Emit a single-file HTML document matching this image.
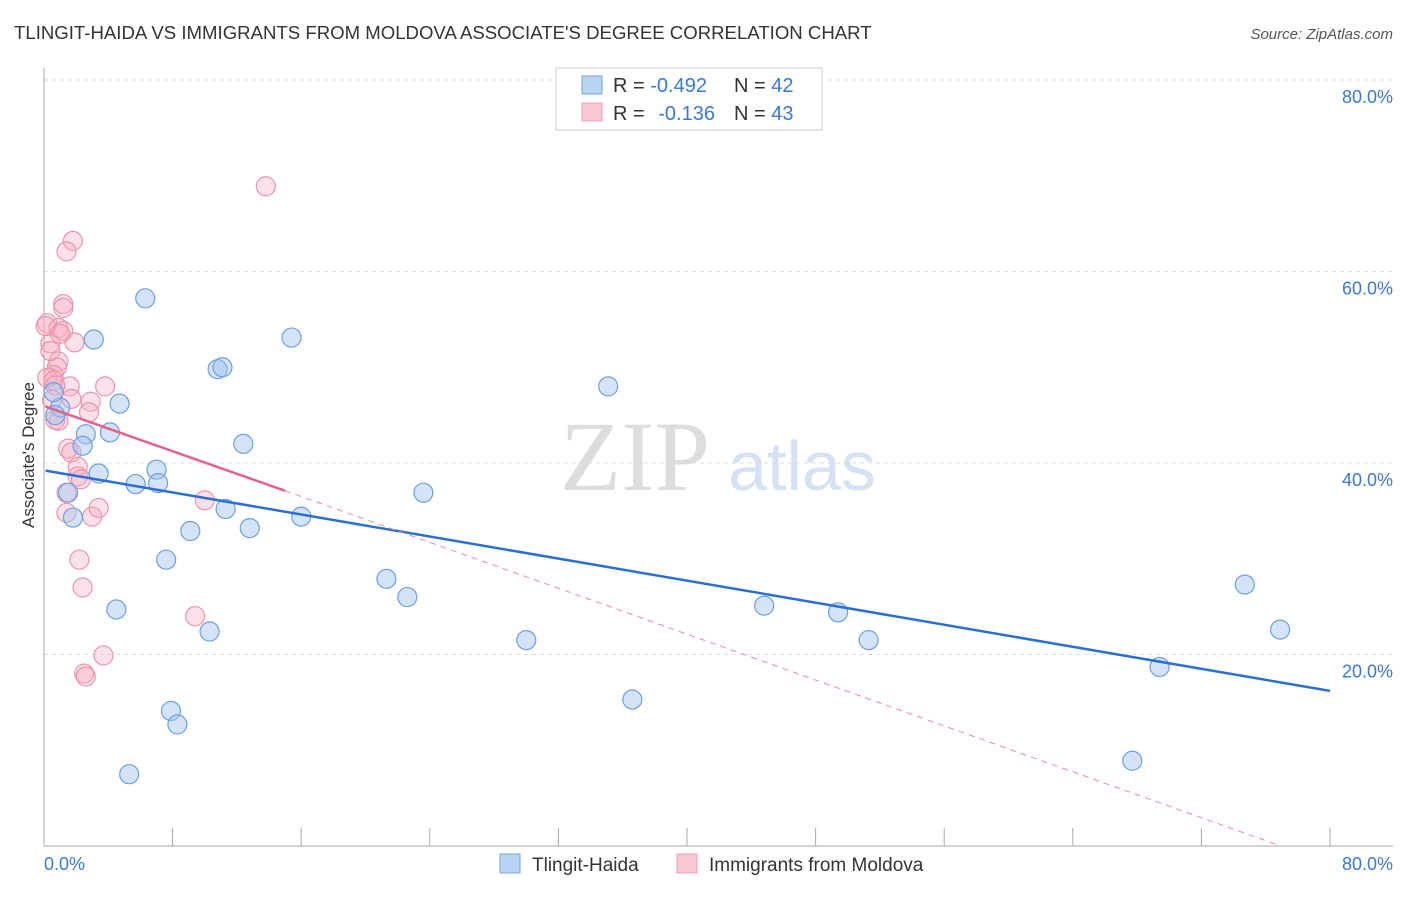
<!DOCTYPE html>
<html><head><meta charset="utf-8"><style>
body{margin:0;background:#fff;font-family:"Liberation Sans",sans-serif;}
</style></head><body>
<svg width="1406" height="892" xmlns="http://www.w3.org/2000/svg" font-family="Liberation Sans, sans-serif">
<text x="14" y="39" font-size="18.6" fill="#333">TLINGIT-HAIDA VS IMMIGRANTS FROM MOLDOVA ASSOCIATE'S DEGREE CORRELATION CHART</text>
<text x="1393" y="39" font-size="15" fill="#555" font-style="italic" text-anchor="end">Source: ZipAtlas.com</text>
<text x="635" y="490" font-size="100" fill="#ddd" text-anchor="middle" font-family="Liberation Serif, serif">ZIP</text>
<text x="802" y="490" font-size="70" fill="#d5e2f3" text-anchor="middle">atlas</text>
<g id="grid"></g><g id="axes"></g><g id="marks"></g>
<text transform="translate(34,455) rotate(-90)" font-size="17" fill="#333" text-anchor="middle">Associate's Degree</text>
<text x="44" y="870" font-size="18" fill="#3a78d8">0.0%</text>
<text x="1393" y="870" font-size="18" fill="#3a78d8" text-anchor="end">80.0%</text>
<g>
<rect x="556" y="68" width="266" height="62" fill="#fff" stroke="#ccc"/>
<rect x="582" y="76" width="20" height="18" fill="#b9d3f3" stroke="#7aa6e2"/>
<rect x="582" y="103" width="20" height="18" fill="#f9c6d4" stroke="#eba0b6"/>
<text x="613" y="92" font-size="20" fill="#333">R = <tspan fill="#3a78d8">-0.492</tspan><tspan x="734">N = </tspan><tspan fill="#3a78d8">42</tspan></text>
<text x="613" y="120" font-size="20" fill="#333">R = <tspan fill="#3a78d8" dx="8">-0.136</tspan><tspan x="734">N = </tspan><tspan fill="#3a78d8">43</tspan></text>
</g>
<g>
<rect x="500" y="854" width="20" height="19" fill="#b9d3f3" stroke="#7aa6e2"/>
<text x="532" y="871" font-size="19" fill="#333">Tlingit-Haida</text>
<rect x="677" y="854" width="20" height="19" fill="#f9c6d4" stroke="#eba0b6"/>
<text x="709" y="871" font-size="19" fill="#333">Immigrants from Moldova</text>
</g>
</svg>
<script>
const yTicks=[20,40,60,80];
const yTickLabels=["20.0%","40.0%","60.0%","80.0%"];
const xTicks=[0,8,16,24,32,40,48,56,64,72,80];
const blueX=[6.3,3.1,15.4,10.8,11.1,35.1,4.7,1.0,0.7,0.6,2.6,4.1,2.4,12.4,3.4,7.0,5.7,7.1,1.5,23.6,1.8,11.3,16.0,12.8,9.1,7.6,21.3,22.6,4.5,10.3,30.0,44.8,49.4,51.3,74.7,76.9,69.4,36.6,7.9,8.3,5.3,67.7];
const blueY=[57.2,52.9,53.1,49.8,50.0,48.0,46.2,45.8,45.0,47.4,43.0,43.2,41.8,42.0,38.9,39.3,37.8,37.9,36.9,36.9,34.3,35.2,34.4,33.2,32.9,29.9,27.9,26.0,24.7,22.4,21.5,25.1,24.4,21.5,27.3,22.6,18.7,15.3,14.1,12.7,7.5,8.9];
const pinkX=[13.8,1.8,1.4,1.2,1.2,0.2,0.9,1.2,1.9,0.4,0.9,0.8,0.6,0.2,0.6,1.6,3.8,0.7,1.7,2.9,2.8,0.9,1.5,1.7,2.1,2.1,2.3,1.4,1.4,3.0,3.4,10.0,2.2,2.4,9.4,3.7,2.5,2.6,0.1,0.4,1.0,0.5,0.7];
const pinkY=[68.9,63.2,62.1,56.6,56.2,54.6,54.1,53.8,52.6,52.5,50.6,50.0,49.2,48.9,48.6,48.0,48.0,48.1,46.7,46.4,45.3,44.4,41.5,41.1,39.6,38.6,38.3,36.9,34.8,34.4,35.3,36.1,29.9,27.0,24.0,19.9,18.0,17.7,54.3,51.7,53.5,46.6,44.5];
const blueTrend=[0.1,39.2,80,16.2];
const pinkTrend=[0.1,45.9,15.0,37.1,76.6,0.2];
const X=v=>44+v*16.075, Y=v=>846-v*9.575;
const NS="http://www.w3.org/2000/svg";
function mk(t,a,p){const e=document.createElementNS(NS,t);for(const k in a)e.setAttribute(k,a[k]);document.getElementById(p).appendChild(e);return e;}
yTicks.forEach((t,i)=>{
 const g=mk('line',{x1:44,x2:1393,y1:Y(t),y2:Y(t),stroke:'#ddd','stroke-dasharray':'4,4'},'grid');
 
 
 const l=mk('text',{x:1393,y:Y(t)+23,'font-size':18,fill:'#3a78d8','text-anchor':'end'},'grid');
 l.textContent=yTickLabels[i];
 
 
});
const ax=mk('line',{x1:44,x2:44,y1:68,y2:846,stroke:'#aaa'},'axes');


const bx=mk('line',{x1:44,x2:1393,y1:846,y2:846,stroke:'#aaa'},'axes');


xTicks.forEach(t=>{
 const e=mk('line',{x1:X(t),x2:X(t),y1:828,y2:846,stroke:'#aaa'},'axes');
 
 
});
pinkX.forEach((v,i)=>{
 const c=mk('circle',{cx:X(v),cy:Y(pinkY[i]),r:9.5,fill:'rgba(245,170,192,0.35)',stroke:'#eb95ae','stroke-width':1.2},'marks');
 
 
});
blueX.forEach((v,i)=>{
 const c=mk('circle',{cx:X(v),cy:Y(blueY[i]),r:9.5,fill:'rgba(160,196,240,0.45)',stroke:'#6d9fe2','stroke-width':1.2},'marks');
 
 
});
const bl=mk('line',{x1:X(blueTrend[0]),y1:Y(blueTrend[1]),x2:X(blueTrend[2]),y2:Y(blueTrend[3]),stroke:'#2a6fd6','stroke-width':2.5},'marks');


const pl=mk('line',{x1:X(pinkTrend[0]),y1:Y(pinkTrend[1]),x2:X(pinkTrend[2]),y2:Y(pinkTrend[3]),stroke:'#e5608a','stroke-width':2.5},'marks');


const pd=mk('line',{x1:X(pinkTrend[2]),y1:Y(pinkTrend[3]),x2:X(pinkTrend[4]),y2:Y(pinkTrend[5]),stroke:'#e88aa6','stroke-width':1,'stroke-dasharray':'6,5'},'marks');


</script>
</body></html>
